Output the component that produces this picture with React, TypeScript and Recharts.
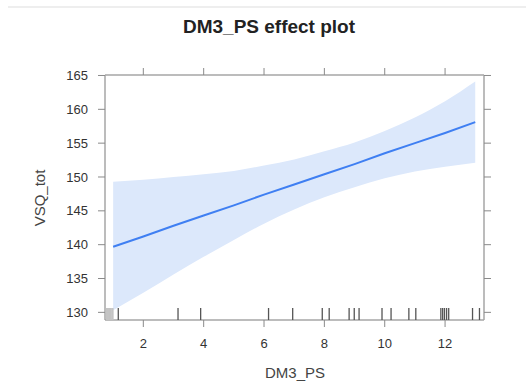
import {
  Area,
  ComposedChart,
  Line,
  Scatter,
  XAxis,
  YAxis,
} from 'recharts';

// effect values
const dm3Values = [1, 2, 3, 4, 5, 6, 7, 8, 9, 10, 11, 12, 13];
const fitValues = [139.7, 141.2, 142.8, 144.3, 145.8, 147.4, 148.9, 150.4, 151.9, 153.5, 155.0, 156.5, 158.1];
const upperValues = [149.3, 149.6, 150.0, 150.4, 150.9, 151.7, 152.6, 153.8, 155.1, 156.8, 158.8, 161.2, 164.1];
const lowerValues = [130.3, 132.9, 135.6, 138.2, 140.7, 143.1, 145.2, 147.0, 148.5, 149.8, 150.8, 151.5, 152.1];

// rug marks along the bottom (jittered observations)
const rugValues = [0.8, 0.86, 0.92, 0.98, 1.17, 3.15, 3.9, 6.15, 6.95, 7.93, 8.16, 8.82, 8.99, 9.15, 9.91, 10.21, 10.8, 11.03, 11.86, 11.92, 11.98, 12.05, 12.12, 12.91, 13.14];

const xTicks = [2, 4, 6, 8, 10, 12];
const yTicks = [130, 135, 140, 145, 150, 155, 160, 165];

const X_DOMAIN: [number, number] = [0.73, 13.29];
const Y_DOMAIN: [number, number] = [128.87, 165.07];

const chartData = dm3Values.map((x, i) => ({
  x,
  fit: fitValues[i],
  band: [lowerValues[i], upperValues[i]],
}));

const rugData = rugValues.map((x) => ({ x, y: Y_DOMAIN[0] }));

const FONT = '"Liberation Sans", Arial, sans-serif';
const BOX = '#a6a6a6';
const TICK = '#8a8a8a';

const RugMark = (props: any) => {
  const { cx, cy, payload } = props;
  // marks left of the first tick sit on top of each other and read as a pale block
  const pale = payload && payload.x < 1;
  return (
    <line
      x1={cx}
      x2={cx}
      y1={cy}
      y2={cy - 12}
      stroke={pale ? '#c4c4c4' : '#555'}
      strokeWidth={pale ? 2.2 : 1.3}
    />
  );
};

export default function App() {
  return (
    <div style={{ position: 'absolute', left: 0, top: 0, width: 526, height: 381, background: '#fff' }}>
      <div style={{ position: 'absolute', left: 8, right: 0, top: 6, height: 2, background: '#eeeeee' }} />
      <div
        style={{
          position: 'absolute',
          left: 269,
          top: 27,
          transform: 'translate(-50%, -50%)',
          whiteSpace: 'nowrap',
          fontFamily: FONT,
          fontWeight: 'bold',
          fontSize: 19,
          color: '#222',
        }}
      >
        DM3_PS effect plot
      </div>
      <ComposedChart
        width={526}
        height={381}
        data={chartData}
        margin={{ top: 65, right: 32, bottom: 31, left: 45 }}
      >
        <XAxis
          xAxisId="bottom"
          dataKey="x"
          type="number"
          domain={X_DOMAIN}
          allowDataOverflow
          ticks={xTicks}
          height={30}
          tickSize={7}
          tickMargin={12}
          stroke={BOX}
          strokeWidth={1.5}
          tickLine={{ stroke: TICK, strokeWidth: 1 }}
          tick={{ fill: '#333', fontSize: 13, fontFamily: FONT }}
        />
        <XAxis
          xAxisId="top"
          orientation="top"
          dataKey="x"
          type="number"
          domain={X_DOMAIN}
          allowDataOverflow
          ticks={xTicks}
          height={10}
          tickSize={7}
          stroke={BOX}
          strokeWidth={1.5}
          tickLine={{ stroke: TICK, strokeWidth: 1 }}
          tickFormatter={() => ''}
        />
        <YAxis
          yAxisId="left"
          type="number"
          domain={Y_DOMAIN}
          allowDataOverflow
          ticks={yTicks}
          width={60}
          tickSize={7}
          tickMargin={10}
          stroke={BOX}
          strokeWidth={1.5}
          tickLine={{ stroke: TICK, strokeWidth: 1 }}
          tick={{ fill: '#333', fontSize: 13, fontFamily: FONT }}
        />
        <YAxis
          yAxisId="right"
          orientation="right"
          type="number"
          domain={Y_DOMAIN}
          allowDataOverflow
          ticks={yTicks}
          width={10}
          tickSize={7}
          stroke={BOX}
          strokeWidth={1.5}
          tickLine={{ stroke: TICK, strokeWidth: 1 }}
          tickFormatter={() => ''}
        />
        <Area
          xAxisId="bottom"
          yAxisId="left"
          type="monotone"
          dataKey="band"
          stroke="none"
          fill="#dce8fb"
          fillOpacity={1}
          isAnimationActive={false}
        />
        <Line
          xAxisId="bottom"
          yAxisId="left"
          type="linear"
          dataKey="fit"
          stroke="#3f7ff2"
          strokeWidth={2}
          dot={false}
          isAnimationActive={false}
        />
        <Scatter
          xAxisId="bottom"
          yAxisId="left"
          data={rugData}
          dataKey="y"
          shape={RugMark}
          isAnimationActive={false}
        />
      </ComposedChart>
      <div
        style={{
          position: 'absolute',
          left: 295,
          top: 372,
          transform: 'translate(-50%, -50%)',
          fontFamily: FONT,
          fontSize: 15,
          color: '#444',
          whiteSpace: 'nowrap',
        }}
      >
        DM3_PS
      </div>
      <div
        style={{
          position: 'absolute',
          left: 39,
          top: 198,
          transform: 'translate(-50%, -50%) rotate(-90deg)',
          fontFamily: FONT,
          fontSize: 15,
          color: '#444',
          whiteSpace: 'nowrap',
        }}
      >
        VSQ_tot
      </div>
    </div>
  );
}
